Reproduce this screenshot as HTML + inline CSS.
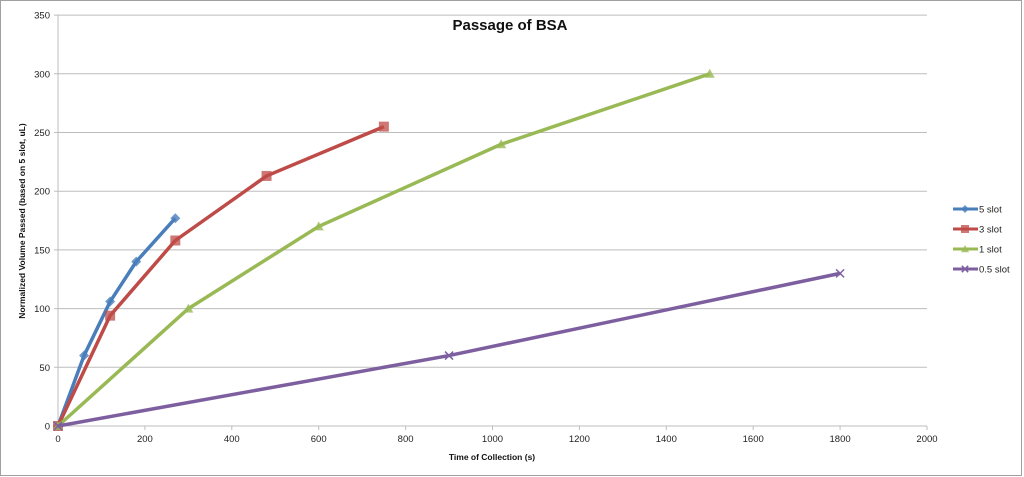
<!DOCTYPE html>
<html><head><meta charset="utf-8"><style>
html,body{margin:0;padding:0;background:#fff;}
svg{display:block;font-family:"Liberation Sans",sans-serif;}
</style></head><body>
<svg id="c" width="1024" height="477" xmlns="http://www.w3.org/2000/svg">
<rect x="0.5" y="0.5" width="1021" height="475" fill="#fff" stroke="#a0a0a0"/>
</svg>
<script>
var s=document.getElementById('c'),h='';
function X(v){return 58+v*0.4345;}
function Y(v){return 426-v*1.174;}
for(var i=0;i<=7;i++){var y=Y(i*50);
 h+='<line x1="54" x2="927" y1="'+y+'" y2="'+y+'" stroke="#bdbdbd" stroke-width="1"/>';
 h+='<text x="50" y="'+(y+3.5)+'" font-size="9.5" text-anchor="end" fill="#222">'+(i*50)+'</text>';}
h+='<line x1="58" x2="58" y1="15" y2="430" stroke="#bdbdbd"/>';
for(var i=0;i<=10;i++){var x=X(i*200);
 h+='<line x1="'+x+'" x2="'+x+'" y1="426" y2="430" stroke="#bdbdbd"/>';
 h+='<text x="'+x+'" y="442" font-size="9.5" text-anchor="middle" fill="#222">'+(i*200)+'</text>';}
h+='<text x="510" y="30" font-size="15" font-weight="bold" text-anchor="middle" fill="#111">Passage of BSA</text>';
h+='<text x="492" y="460" font-size="8.5" font-weight="bold" text-anchor="middle" fill="#111">Time of Collection (s)</text>';
h+='<text transform="translate(25,221) rotate(-90)" font-size="8.5" font-weight="bold" text-anchor="middle" fill="#111">Normalized Volume Passed (based on 5 slot, uL)</text>';
var ser=[
 ['#4a7ebb','d',[[0,0],[60,60],[120,106],[180,140],[270,177]],'5 slot'],
 ['#be4b48','s',[[0,0],[120,94],[270,158],[480,213],[750,255]],'3 slot'],
 ['#98b954','t',[[0,0],[300,100],[600,170],[1020,240],[1500,300]],'1 slot'],
 ['#7d5fa0','x',[[0,0],[900,60],[1800,130]],'0.5 slot']];
function mk(t,c,x,y,r){
 if(t=='d')return '<polygon points="'+x+','+(y-r)+' '+(x+r)+','+y+' '+x+','+(y+r)+' '+(x-r)+','+y+'" fill="'+c+'" opacity="0.8"/>';
 if(t=='s')return '<rect x="'+(x-r)+'" y="'+(y-r)+'" width="'+(2*r)+'" height="'+(2*r)+'" fill="'+c+'" opacity="0.75"/>';
 if(t=='t')return '<polygon points="'+x+','+(y-r)+' '+(x+r)+','+(y+r*0.8)+' '+(x-r)+','+(y+r*0.8)+'" fill="'+c+'" opacity="0.8"/>';
 var q=r*0.8;
 return '<path d="M'+(x-q)+','+(y-q)+'L'+(x+q)+','+(y+q)+'M'+(x-q)+','+(y+q)+'L'+(x+q)+','+(y-q)+'" stroke="'+c+'" stroke-width="1.5"/>';}
ser.forEach(function(r,k){
 var p=r[2].map(function(q){return X(q[0])+','+Y(q[1]);}).join(' ');
 h+='<polyline points="'+p+'" fill="none" stroke="'+r[0]+'" stroke-width="3.5" stroke-linejoin="round"/>';
 r[2].forEach(function(q){h+=mk(r[1],r[0],X(q[0]),Y(q[1]),5);});
 var ly=209+k*20;
 h+='<line x1="953" x2="978" y1="'+ly+'" y2="'+ly+'" stroke="'+r[0]+'" stroke-width="3"/>';
 h+=mk(r[1],r[0],965,ly,4);
 h+='<text x="979" y="'+(ly+3.5)+'" font-size="9.5" fill="#222">'+r[3]+'</text>';});
s.insertAdjacentHTML('beforeend',h);
</script>
</body></html>
